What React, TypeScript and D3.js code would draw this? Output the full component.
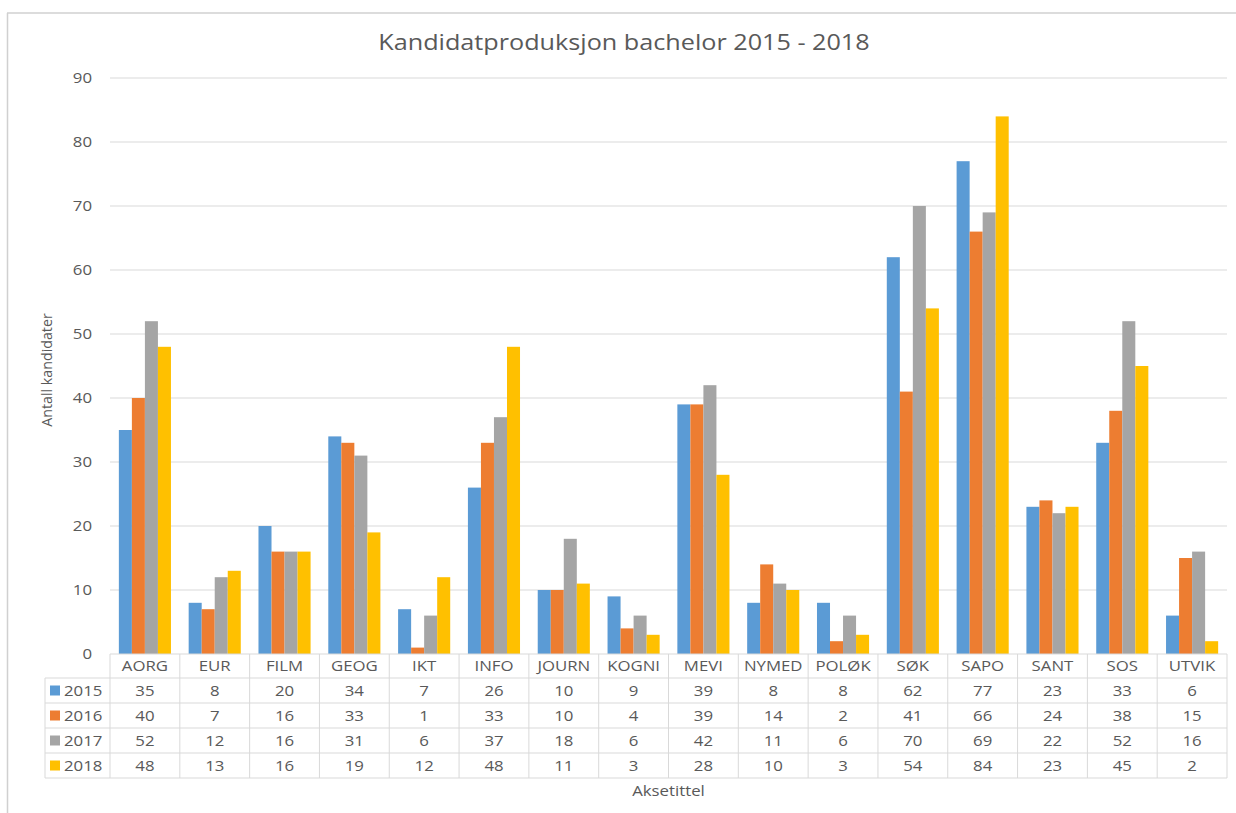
import React from "react";
import * as d3 from "d3";

const categories = ["AORG", "EUR", "FILM", "GEOG", "IKT", "INFO", "JOURN", "KOGNI", "MEVI", "NYMED", "POLØK", "SØK", "SAPO", "SANT", "SOS", "UTVIK"];
const years = ["2015", "2016", "2017", "2018"];
const v2015 = [35, 8, 20, 34, 7, 26, 10, 9, 39, 8, 8, 62, 77, 23, 33, 6];
const v2016 = [40, 7, 16, 33, 1, 33, 10, 4, 39, 14, 2, 41, 66, 24, 38, 15];
const v2017 = [52, 12, 16, 31, 6, 37, 18, 6, 42, 11, 6, 70, 69, 22, 52, 16];
const v2018 = [48, 13, 16, 19, 12, 48, 11, 3, 28, 10, 3, 54, 84, 23, 45, 2];
const yTicks = [0, 10, 20, 30, 40, 50, 60, 70, 80, 90];
const colors = ["#5B9BD5", "#ED7D31", "#A5A5A5", "#FFC000"];

const series = [v2015, v2016, v2017, v2018];

const textColor = "#595959";

// the source image is stretched sideways, so text gets a little horizontal scale
function T({ x, y, anchor = "middle", size = 15, sx = 1.12, children }: any) {
  return (
    <text
      transform={`translate(${x},${y}) scale(${sx},1)`}
      dy="0.35em"
      textAnchor={anchor}
      fontSize={size}
      fill={textColor}
    >
      {children}
    </text>
  );
}

export default function App() {
  const W = 1236, H = 813;
  const left = 110, right = 1227, top = 78, bottom = 654;
  const rowH = 25, headH = 24, legendX = 45;
  const font = "'Open Sans', sans-serif";
  const lineColor = "#d9d9d9";

  const x = d3.scaleBand().domain(categories).range([left, right]);
  const xi = d3.scaleBand().domain(years).range([0, x.bandwidth()]).paddingOuter(0.68);
  const y = d3.scaleLinear().domain([0, 90]).range([bottom, top]);

  const tableTop = bottom;
  const tableBottom = bottom + headH + rowH * years.length;
  const mid = (c: string) => x(c) + x.bandwidth() / 2;

  return (
    <svg width={W} height={H} style={{ position: "absolute", left: 0, top: 0, background: "#fff" }} fontFamily={font}>
      <rect x={0} y={0} width={W} height={H} fill="#fff" />
      {/* chart frame */}
      <line x1={7} x2={W} y1={13} y2={13} stroke="#d0d0d0" strokeWidth={1.5} />
      <line x1={7.5} x2={7.5} y1={13} y2={H} stroke="#d0d0d0" strokeWidth={1.5} />

      <T x={624} y={43} size={21} sx={1.2}>Kandidatproduksjon bachelor 2015 - 2018</T>

      {yTicks.map(t => (
        <g key={t}>
          {t > 0 && <line x1={left} x2={right} y1={y(t)} y2={y(t)} stroke={lineColor} strokeWidth={1} />}
          <T x={92} y={y(t)} anchor="end">{t}</T>
        </g>
      ))}

      <text transform={`translate(52,${(top + bottom) / 2 + 4}) rotate(-90) scale(0.95,1)`} textAnchor="middle" fontSize={15} fill={textColor}>
        Antall kandidater
      </text>

      {categories.map((c, ci) => (
        <g key={c} transform={`translate(${x(c)},0)`}>
          {series.map((s, si) => (
            <rect
              key={si}
              x={xi(years[si])}
              y={y(s[ci])}
              width={xi.bandwidth()}
              height={bottom - y(s[ci])}
              fill={colors[si]}
            />
          ))}
        </g>
      ))}

      {/* data table */}
      <line x1={left} x2={right} y1={tableTop} y2={tableTop} stroke={lineColor} />
      {years.map((yr, ri) => (
        <line key={yr} x1={legendX} x2={right} y1={tableTop + headH + ri * rowH} y2={tableTop + headH + ri * rowH} stroke={lineColor} />
      ))}
      <line x1={legendX} x2={right} y1={tableBottom} y2={tableBottom} stroke={lineColor} />
      <line x1={legendX} x2={legendX} y1={tableTop + headH} y2={tableBottom} stroke={lineColor} />
      {categories.map(c => (
        <line key={c} x1={x(c)} x2={x(c)} y1={tableTop} y2={tableBottom} stroke={lineColor} />
      ))}
      <line x1={right} x2={right} y1={tableTop} y2={tableBottom} stroke={lineColor} />

      {categories.map(c => (
        <T key={c} x={mid(c)} y={tableTop + headH / 2}>{c}</T>
      ))}
      {years.map((yr, ri) => {
        const cy = tableTop + headH + ri * rowH + rowH / 2;
        return (
          <g key={yr}>
            <rect x={50} y={cy - 5} width={10} height={10} fill={colors[ri]} />
            <T x={64} y={cy} anchor="start">{yr}</T>
            {series[ri].map((v, ci) => (
              <T key={ci} x={mid(categories[ci])} y={cy}>{v}</T>
            ))}
          </g>
        );
      })}

      <T x={(left + right) / 2} y={791}>Aksetittel</T>
    </svg>
  );
}
